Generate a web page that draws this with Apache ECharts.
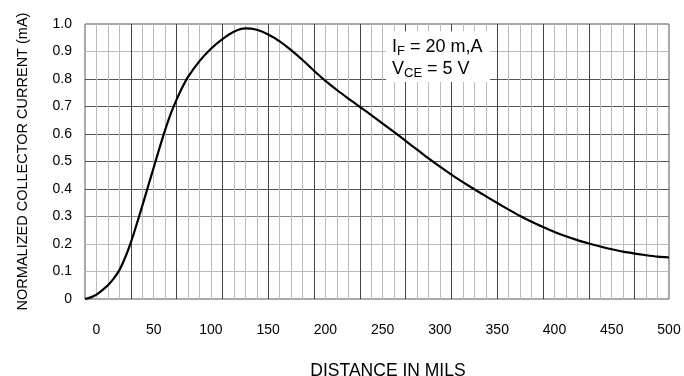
<!DOCTYPE html>
<html>
<head>
<meta charset="utf-8">
<script src="https://cdn.jsdelivr.net/npm/echarts@6/dist/echarts.min.js"></script>
<style>html,body{margin:0;padding:0;background:#fff}#c{width:684px;height:376px}</style>
</head>
<body>
<div id="c"></div>
<script>
// Distance in mils
var distance = [-10, -5, 0, 5, 10, 15, 20, 25, 30, 35, 40, 45, 50, 55, 60, 65, 70, 75, 80, 90, 100, 110, 120, 130, 140, 150, 160, 170, 180, 190, 200, 210, 220, 230, 240, 250, 260, 270, 280, 290, 300, 310, 320, 330, 340, 350, 360, 370, 380, 390, 400, 410, 420, 430, 440, 450, 460, 470, 480, 490, 500];
// Normalized collector current
var current = [0.0, 0.006, 0.016, 0.032, 0.05, 0.074, 0.105, 0.15, 0.205, 0.27, 0.338, 0.408, 0.478, 0.548, 0.615, 0.675, 0.725, 0.77, 0.808, 0.865, 0.91, 0.945, 0.972, 0.984, 0.979, 0.962, 0.937, 0.905, 0.869, 0.83, 0.793, 0.76, 0.729, 0.699, 0.669, 0.638, 0.607, 0.575, 0.543, 0.511, 0.481, 0.452, 0.425, 0.399, 0.374, 0.349, 0.325, 0.302, 0.281, 0.262, 0.244, 0.228, 0.214, 0.202, 0.191, 0.181, 0.172, 0.165, 0.159, 0.154, 0.151];
var xTickLabels = [0, 50, 100, 150, 200, 250, 300, 350, 400, 450, 500];
var yTickLabels = ['0', '0.1', '0.2', '0.3', '0.4', '0.5', '0.6', '0.7', '0.8', '0.9', '1.0'];
var xAxisTitle = 'DISTANCE IN MILS';
var yAxisTitle = 'NORMALIZED COLLECTOR CURRENT (mA)';

var FONT = 'Liberation Sans, Arial, sans-serif';
var chart = echarts.init(document.getElementById('c'));
var pts = distance.map(function (d, i) { return [d, current[i]]; });

chart.setOption({
  animation: false,
  backgroundColor: '#fff',
  grid: { left: 85, right: 15, top: 24, bottom: 77, containLabel: false, outerBoundsMode: 'none',
    show: true, borderColor: '#555', borderWidth: 1 },
  xAxis: {
    type: 'value', min: -10, max: 500, interval: 10,
    axisLine: { show: false }, axisTick: { show: false },
    axisLabel: {
      interval: 0, margin: 24, fontSize: 14, color: '#000', fontFamily: FONT,
      formatter: function (v) { return xTickLabels.indexOf(v) >= 0 ? String(v) : ''; }
    },
    splitLine: { show: true, showMinLine: false, showMaxLine: false,
      lineStyle: { width: 1, color: ['#bbb', '#bbb', '#bbb', '#444'] } },
    name: xAxisTitle, nameLocation: 'middle', nameGap: 63,
    nameTextStyle: { fontSize: 17.5, color: '#000', fontFamily: FONT, padding: [0, 0, 0, 22] }
  },
  yAxis: {
    type: 'value', min: 0, max: 1, interval: 0.1,
    axisLine: { show: false }, axisTick: { show: false },
    axisLabel: {
      margin: 13, fontSize: 14, color: '#000', fontFamily: FONT, padding: [0, 0, 7, 0],
      formatter: function (v) { return yTickLabels[Math.round(v * 10)]; }
    },
    splitLine: { show: true, showMinLine: false, showMaxLine: false,
      lineStyle: { width: 1, color: ['#bbb', '#bbb', '#888', '#555', '#555', '#555', '#555', '#555', '#bbb'] } },
    name: yAxisTitle, nameLocation: 'middle', nameGap: 55,
    nameTextStyle: { fontSize: 14.5, color: '#000', fontFamily: FONT }
  },
  series: [{
    type: 'line', data: pts, smooth: 0.3, symbol: 'none',
    lineStyle: { color: '#000', width: 2.2 }, z: 5
  }],
  graphic: [
    { type: 'rect', shape: { x: 386, y: 31.5, width: 104, height: 50.5 }, style: { fill: '#fff' }, z: 10 },
    { type: 'text', x: 392, y: 36, z: 11,
      style: { text: '{m|I}{s|F}{m| = 20 m,A}', verticalAlign: 'top', align: 'left',
        rich: { m: { fontSize: 18, lineHeight: 22, fontFamily: FONT, fill: '#000' },
                s: { fontSize: 13, lineHeight: 13, padding: [9, 0, 0, 0], fontFamily: FONT, fill: '#000' } } } },
    { type: 'text', x: 392, y: 58, z: 11,
      style: { text: '{m|V}{s|CE}{m| = 5 V}', verticalAlign: 'top', align: 'left',
        rich: { m: { fontSize: 18, lineHeight: 22, fontFamily: FONT, fill: '#000' },
                s: { fontSize: 13, lineHeight: 13, padding: [9, 0, 0, 0], fontFamily: FONT, fill: '#000' } } } }
  ]
});
</script>
</body>
</html>
